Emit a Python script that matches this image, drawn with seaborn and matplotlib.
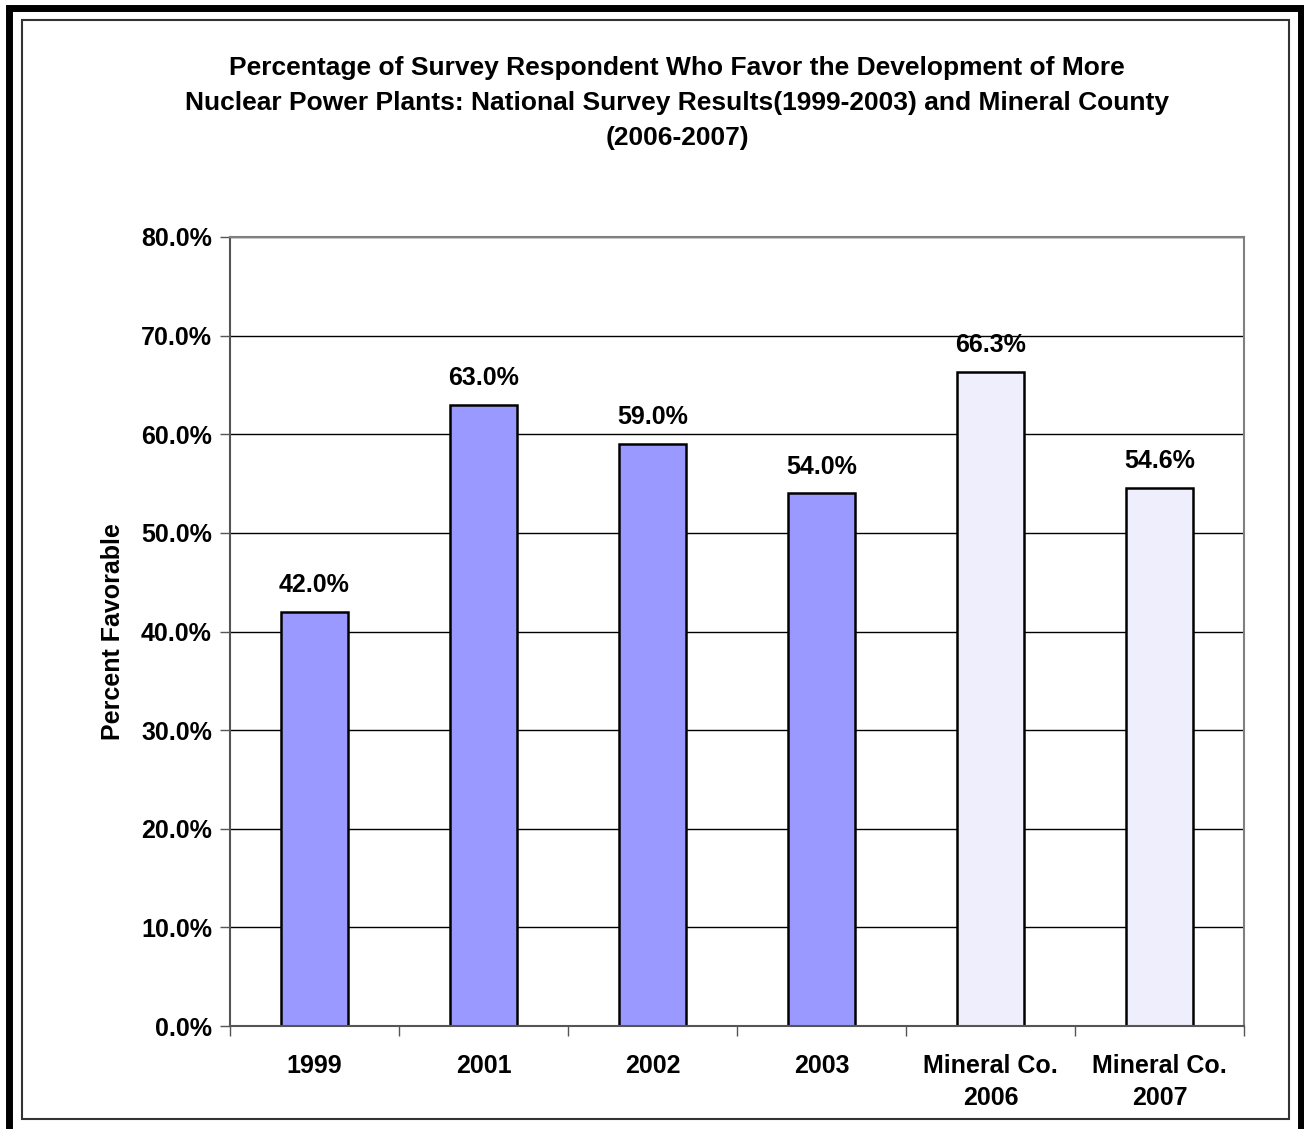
import matplotlib
matplotlib.use("Agg")
import matplotlib.pyplot as plt
import seaborn as sns
import pandas as pd
from matplotlib.patches import Rectangle
from matplotlib.ticker import MultipleLocator, PercentFormatter

# %% Data
categories = ["1999", "2001", "2002", "2003", "Mineral Co.\n2006", "Mineral Co.\n2007"]
percent_favorable = [42.0, 63.0, 59.0, 54.0, 66.3, 54.6]
bar_colors = ["#9999FF", "#9999FF", "#9999FF", "#9999FF", "#EEEEFC", "#EEEEFC"]
title_lines = ["Percentage of Survey Respondent Who Favor the Development of More",
               "Nuclear Power Plants: National Survey Results(1999-2003) and Mineral County",
               "(2006-2007)"]

df = pd.DataFrame({"Category": categories, "Percent": percent_favorable})

# %% Style
sns.set_style("white")
plt.rcParams['font.family'] = ['Liberation Sans', 'DejaVu Sans']
plt.rcParams['font.weight'] = 'bold'
plt.rcParams['text.color'] = 'black'
plt.rcParams['axes.labelcolor'] = 'black'
plt.rcParams['xtick.color'] = 'black'
plt.rcParams['ytick.color'] = 'black'

FS = 18
W, H = 1304, 1129
fig = plt.figure(figsize=(W / 100, H / 100), dpi=100)

# frames around the chart
fig.patches.append(Rectangle((9 / W, -0.05), (1301 - 9) / W, (H - 8) / H + 0.05,
                             transform=fig.transFigure, fill=False,
                             edgecolor='black', linewidth=5, zorder=0))
fig.patches.append(Rectangle((22 / W, (H - 1119) / H), (1289 - 22) / W, (1119 - 20) / H,
                             transform=fig.transFigure, fill=False,
                             edgecolor='#333333', linewidth=1.5, zorder=0))

ax = fig.add_axes([230 / W, (H - 1026) / H, (1244 - 230) / W, (1026 - 237) / H])

sns.barplot(data=df, x='Category', y='Percent', hue='Category',
            palette=bar_colors, saturation=1, width=0.40, edgecolor='black',
            linewidth=1.8, legend=False, ax=ax)

# value labels
for i, v in enumerate(percent_favorable):
    ax.text(i, v + 1.5, f"{v:.1f}%", ha='center', va='bottom',
            fontsize=FS, fontweight='bold')

ax.set_ylim(0, 80)
ax.set_xlim(-0.5, len(categories) - 0.5)
ax.yaxis.set_major_locator(MultipleLocator(10))
ax.yaxis.set_major_formatter(PercentFormatter(decimals=1))
ax.grid(axis='y', color='black', linewidth=1.0)
ax.set_axisbelow(True)

for side in ['top', 'right']:
    ax.spines[side].set_color('#808080')
    ax.spines[side].set_linewidth(1.5)
ax.spines['left'].set_color('#555555')
ax.spines['bottom'].set_color('#555555')
ax.spines['left'].set_linewidth(1.5)
ax.spines['bottom'].set_linewidth(1.5)

ax.tick_params(axis='y', which='major', direction='out', length=7, width=1,
               color='#555555', labelsize=FS, pad=6, left=True)
ax.set_xticks(range(len(categories)))
ax.set_xticklabels(categories, fontsize=FS, fontweight='bold', linespacing=1.42)
ax.tick_params(axis='x', which='major', length=0, pad=20)
ax.set_xticks([i + 0.5 for i in range(-1, len(categories))], minor=True)
ax.tick_params(axis='x', which='minor', direction='out', length=7, width=1,
               color='#555555', bottom=True)
for lbl in ax.get_yticklabels():
    lbl.set_fontweight('bold')

ax.set_xlabel('')
ax.set_ylabel('Percent Favorable', fontsize=FS, fontweight='bold')
ax.yaxis.set_label_coords((125 - 230) / 1014, 0.5)

# title, one line at a time
for y_px, line in zip([68, 103, 138], title_lines):
    fig.text(677 / W, 1 - y_px / H, line, ha='center', va='center',
             fontsize=19, fontweight='bold')

fig.savefig('out.png', dpi=100)
